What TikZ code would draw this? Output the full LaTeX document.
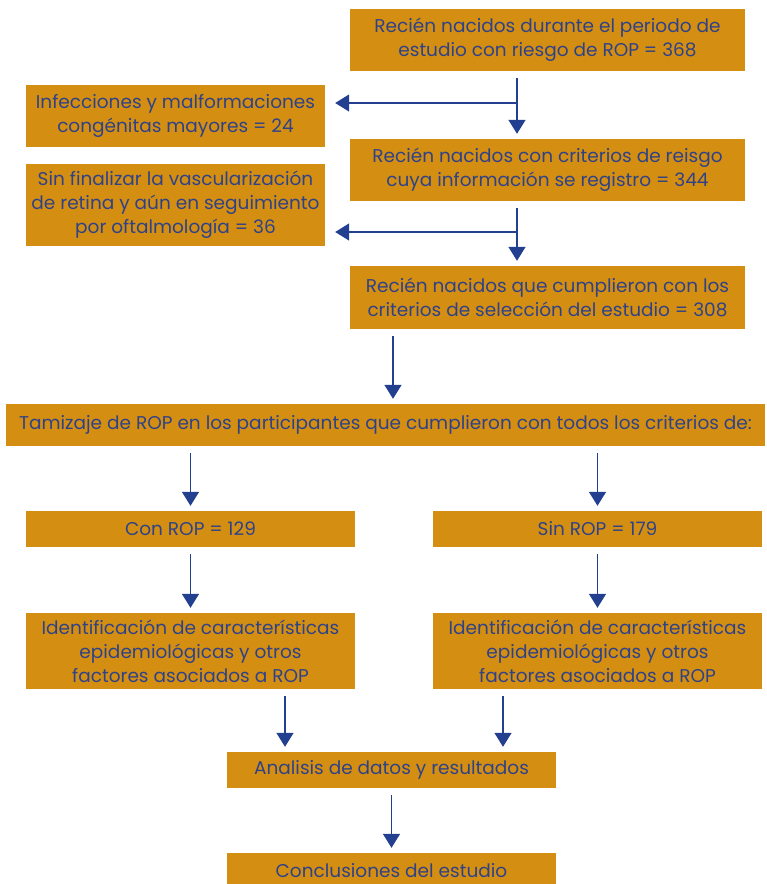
\documentclass[tikz,border=0pt]{standalone}
\usepackage{fontspec}
\setmainfont{Poppins}
\usetikzlibrary{arrows.meta}
\definecolor{boxgold}{HTML}{D48F12}
\definecolor{txtblue}{HTML}{2F4288}
\definecolor{arrblue}{HTML}{233F8F}
\tikzset{
  box/.style={fill=boxgold, text=txtblue, align=center, inner sep=0pt,
    font=\fontsize{18.5}{24}\selectfont},
  arr/.style={draw=arrblue, line width=1.5pt,
    -{Triangle[width=17pt,length=14pt]}, shorten <=7pt, shorten >=5pt}
}
\begin{document}
\begin{tikzpicture}[x=1pt,y=-1pt]
            \useasboundingbox (0,0) rectangle (767,884);
            \node[box, minimum width=395, minimum height=62] (b1) at (547.5,40)
                {Recién nacidos durante el periodo de\\estudio con riesgo de ROP = 368};
            \node[box, minimum width=299, minimum height=62] (ba) at (175.5,116)
                {Infecciones y malformaciones\\congénitas mayores = 24};
            \node[box, minimum width=395, minimum height=62] (b2) at (547.5,170)
                {Recién nacidos con criterios de reisgo\\cuya información se registro = 344};
            \node[box, minimum width=299, minimum height=82] (bb) at (175.5,205)
                {Sin finalizar la vascularización\\de retina y aún en seguimiento\\por oftalmología = 36};
            \node[box, minimum width=395, minimum height=63] (b3) at (547.5,297.5)
                {Recién nacidos que cumplieron con los\\criterios de selección del estudio = 308};
            \node[box, minimum width=759, minimum height=42] (b4) at (385.5,425)
                {Tamizaje de ROP en los participantes que cumplieron con todos los criterios de:};
            \node[box, minimum width=329, minimum height=36] (b5l) at (190.5,529) {Con ROP = 129};
            \node[box, minimum width=329, minimum height=36] (b5r) at (597.5,529) {Sin ROP = 179};
            \node[box, minimum width=329, minimum height=76] (b6l) at (190.5,651)
                {Identificación de características\\epidemiológicas y otros\\factores asociados a ROP};
            \node[box, minimum width=329, minimum height=76] (b6r) at (597.5,651)
                {Identificación de características\\epidemiológicas y otros\\factores asociados a ROP};
            \node[box, minimum width=329, minimum height=36] (b7) at (391.5,770)
                {Analisis de datos y resultados};
            \node[box, minimum width=329, minimum height=36] (b8) at (391.5,871)
                {Conclusiones del estudio};
            \coordinate (j1) at (517,103);
            \coordinate (j2) at (517,232);
            \draw[arr] ([xshift=-30.5]b1.south) -- ([xshift=-30.5]b2.north);
            \draw[arr, shorten <=0pt, shorten >=10pt] (j1) -- (j1 -| ba.east);
            \draw[arr] ([xshift=-30.5]b2.south) -- ([xshift=-30.5]b3.north);
            \draw[arr, shorten <=0pt, shorten >=10pt] (j2) -- (j2 -| bb.east);
            \draw[arr] ([xshift=-154.5]b3.south) -- ([xshift=7.5]b4.north);
            \draw[arr] (b4.south -| b5l.north) -- (b5l.north);
            \draw[arr] (b4.south -| b5r.north) -- (b5r.north);
            \draw[arr] (b5l.south) -- (b6l.north);
            \draw[arr] (b5r.south) -- (b6r.north);
            \draw[arr] ([xshift=94.5]b6l.south) -- ([xshift=94.5]b6l.south |- b7.north);
            \draw[arr] ([xshift=-94.5]b6r.south) -- ([xshift=-94.5]b6r.south |- b7.north);
            \draw[arr] (b7.south) -- (b8.north);
        \end{tikzpicture}
\end{document}
